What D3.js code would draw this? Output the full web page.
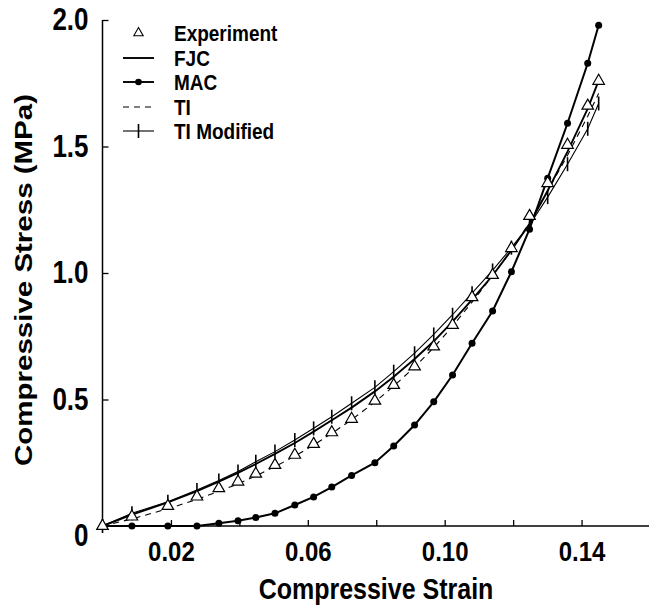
<!DOCTYPE html>
<html><head><meta charset="utf-8">
<script src="https://cdn.jsdelivr.net/npm/d3@7"></script>
<style>body{margin:0;background:#fff}svg{display:block}text{font-family:"Liberation Sans",Arial,sans-serif;font-weight:bold;fill:#000}
.st{transform-box:fill-box;transform-origin:center;transform:scaleY(1.18)}</style>
</head><body>
<svg id="c" width="649" height="606"></svg>
<script>
const strain = [0, 0.0086, 0.0191, 0.0276, 0.0340, 0.0396, 0.0448, 0.0504, 0.0562, 0.0617, 0.0670, 0.0728, 0.0796, 0.0851, 0.0912, 0.0968, 0.1023, 0.1080, 0.1140, 0.1195, 0.1248, 0.1301, 0.1359, 0.1418, 0.1450];
const experiment = [0, 0.037, 0.079, 0.116, 0.149, 0.175, 0.206, 0.241, 0.281, 0.324, 0.37, 0.423, 0.495, 0.557, 0.63, 0.709, 0.794, 0.904, 0.992, 1.098, 1.225, 1.355, 1.506, 1.661, 1.759];
const fjc = [0, 0.045, 0.093, 0.138, 0.175, 0.21, 0.245, 0.285, 0.328, 0.373, 0.418, 0.468, 0.532, 0.59, 0.66, 0.73, 0.808, 0.895, 0.99, 1.09, 1.195, 1.325, 1.48, 1.65, 1.76];
const mac = [0, 0, 0, 0, 0.011, 0.021, 0.034, 0.050, 0.083, 0.115, 0.154, 0.2, 0.25, 0.316, 0.399, 0.491, 0.597, 0.722, 0.85, 1.005, 1.173, 1.375, 1.592, 1.829, 1.979];
const ti = [0, 0.028, 0.068, 0.105, 0.137, 0.166, 0.198, 0.235, 0.276, 0.32, 0.366, 0.42, 0.49, 0.553, 0.628, 0.705, 0.79, 0.885, 0.99, 1.09, 1.20, 1.325, 1.465, 1.62, 1.71];
const tiModified = [0, 0.05, 0.096, 0.142, 0.18, 0.215, 0.254, 0.294, 0.34, 0.386, 0.432, 0.485, 0.548, 0.61, 0.683, 0.757, 0.835, 0.92, 1.01, 1.10, 1.19, 1.30, 1.43, 1.57, 1.67];
const xTicks = [0.02, 0.04, 0.06, 0.08, 0.10, 0.12, 0.14, 0.16];
const xTickLabels = ["0.02", "", "0.06", "", "0.10", "", "0.14", ""];
const yTicks = [0, 0.5, 1.0, 1.5, 2.0];
const yTickLabels = ["0", "0.5", "1.0", "1.5", "2.0"];
const legendNames = ["Experiment", "FJC", "MAC", "TI", "TI Modified"];

const svg = d3.select("#c");
const x = d3.scaleLinear().domain([0, 0.16]).range([102.5, 650]);
const y = d3.scaleLinear().domain([0, 2.0]).range([526, 20]);

// axes
const xAxis = d3.axisBottom(x).tickValues(xTicks).tickSize(-6).tickFormat((d,i)=>xTickLabels[i]).tickPadding(16);
const gx = svg.append("g").attr("transform", `translate(0,${y(0)})`).call(xAxis);
gx.select(".domain").attr("d", `M${x(0)},0H${649}`).attr("stroke","#000").attr("stroke-width",1.5);
gx.selectAll(".tick line").attr("stroke","#000").attr("stroke-width",1.3);
gx.selectAll(".tick text").attr("font-size", 24).attr("font-family","Liberation Sans, Arial, sans-serif").attr("font-weight","bold").attr("fill","#000").attr("class","st");
gx.selectAll(".tick").filter(d=>d===0.16).select("line").remove();

const yAxis = d3.axisLeft(y).tickValues(yTicks).tickSize(-6).tickFormat((d,i)=>yTickLabels[i]).tickPadding(14);
const gy = svg.append("g").attr("transform", `translate(${x(0)},0)`).call(yAxis);
gy.select(".domain").attr("d", `M0,${y(0)}V${y(2)}`).attr("stroke","#000").attr("stroke-width",1.5);
gy.selectAll(".tick line").attr("stroke","#000").attr("stroke-width",1.3);
gy.selectAll(".tick text").attr("font-size", 26).attr("font-family","Liberation Sans, Arial, sans-serif").attr("font-weight","bold").attr("fill","#000").attr("class","st");
gy.selectAll(".tick").filter(d=>d===0).select("text").attr("dy","0.7em");

svg.append("text").attr("x", 376).attr("y", 597).attr("text-anchor","middle").attr("font-size",25).attr("class","st").text("Compressive Strain");
svg.append("text").attr("transform","translate(32,280) rotate(-90)").attr("text-anchor","middle").attr("font-size",24)
  .attr("textLength",372).attr("lengthAdjust","spacingAndGlyphs").text("Compressive Stress (MPa)");

const line = vals => d3.line().x((d,i)=>x(strain[i])).y(d=>y(d))(vals);

// TI dashed
svg.append("path").attr("d", line(ti)).attr("fill","none").attr("stroke","#000").attr("stroke-width",1.1).attr("stroke-dasharray","6,5");
// TI modified
svg.append("path").attr("d", line(tiModified)).attr("fill","none").attr("stroke","#000").attr("stroke-width",1.1);
svg.append("g").selectAll("line").data(tiModified).join("line")
  .attr("x1",(d,i)=>x(strain[i])).attr("x2",(d,i)=>x(strain[i]))
  .attr("y1",d=>y(d)-7).attr("y2",d=>y(d)+7).attr("stroke","#000").attr("stroke-width",1.6);
// FJC
svg.append("path").attr("d", line(fjc)).attr("fill","none").attr("stroke","#000").attr("stroke-width",1.9);
// MAC
svg.append("path").attr("d", line(mac)).attr("fill","none").attr("stroke","#000").attr("stroke-width",2);
svg.append("g").selectAll("circle").data(mac).join("circle")
  .attr("cx",(d,i)=>x(strain[i])).attr("cy",d=>y(d)).attr("r",3.5).attr("fill","#000");
// Experiment triangles
const tri = d3.symbol(d3.symbolTriangle, 58);
svg.append("g").selectAll("path").data(experiment).join("path")
  .attr("d", tri).attr("transform",(d,i)=>`translate(${x(strain[i])},${y(d)})`)
  .attr("fill","#fff").attr("stroke","#000").attr("stroke-width",1.2);

// legend
const lg = svg.append("g");
const rowY = [33, 58, 82, 107, 131];
const lx1 = 123, lx2 = 154, lc = 138.5, tx = 174;
lg.append("path").attr("d", d3.symbol(d3.symbolTriangle, 38)()).attr("transform",`translate(${lc},${rowY[0]})`).attr("fill","#fff").attr("stroke","#000").attr("stroke-width",1.1);
lg.append("line").attr("x1",lx1).attr("x2",lx2).attr("y1",rowY[1]).attr("y2",rowY[1]).attr("stroke","#000").attr("stroke-width",1.9);
lg.append("line").attr("x1",lx1).attr("x2",lx2).attr("y1",rowY[2]).attr("y2",rowY[2]).attr("stroke","#000").attr("stroke-width",1.9);
lg.append("circle").attr("cx",lc).attr("cy",rowY[2]).attr("r",3.3).attr("fill","#000");
lg.append("line").attr("x1",lx1).attr("x2",lx2).attr("y1",rowY[3]).attr("y2",rowY[3]).attr("stroke","#000").attr("stroke-width",1.1).attr("stroke-dasharray","6,5");
lg.append("line").attr("x1",lx1).attr("x2",lx2).attr("y1",rowY[4]).attr("y2",rowY[4]).attr("stroke","#000").attr("stroke-width",1.1);
lg.append("line").attr("x1",lc).attr("x2",lc).attr("y1",rowY[4]-7).attr("y2",rowY[4]+7).attr("stroke","#000").attr("stroke-width",1.6);
lg.selectAll("text").data(legendNames).join("text").attr("x",tx).attr("y",(d,i)=>rowY[i]).attr("dy","0.35em").attr("font-size",19).attr("class","st").text(d=>d);
</script>
</body></html>
